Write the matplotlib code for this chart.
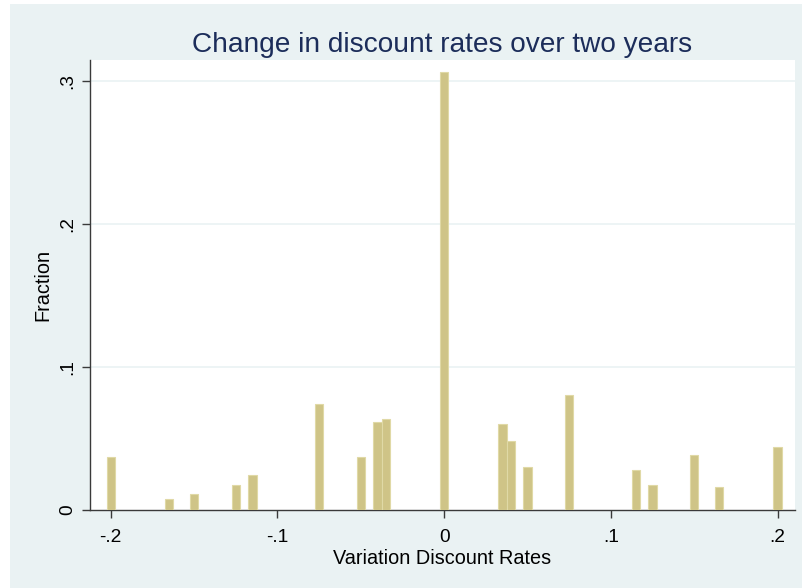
import numpy as np
import matplotlib.pyplot as plt
from matplotlib.patches import Rectangle

plt.rcParams['font.family'] = ['Liberation Sans', 'DejaVu Sans']

# discount rate changes (bin centres) and fraction of observations
values = [-0.200, -0.165, -0.150, -0.125, -0.115, -0.075, -0.050, -0.040, -0.035,
          0.000, 0.035, 0.040, 0.050, 0.075, 0.115, 0.125, 0.150, 0.165, 0.200]
fractions = [0.0373, 0.0077, 0.0110, 0.0173, 0.0247, 0.0741, 0.0373, 0.0618, 0.0639,
             0.3063, 0.0601, 0.0483, 0.0298, 0.0804, 0.0280, 0.0173, 0.0382, 0.0163, 0.0438]
xticks = [-0.2, -0.1, 0, 0.1, 0.2]
xticklabels = ['-.2', '-.1', '0', '.1', '.2']
yticks = [0, 0.1, 0.2, 0.3]
yticklabels = ['0', '.1', '.2', '.3']

bg = '#EAF2F3'
navy = '#1C2D5A'

fig = plt.figure(figsize=(8.03, 5.88), dpi=100, facecolor='white')
fig.patches.append(Rectangle((10 / 803, 0), 1 - 10 / 803, 1 - 4 / 588,
                             transform=fig.transFigure, facecolor=bg,
                             edgecolor='none', zorder=-10))

ax = fig.add_axes([90 / 803, 78 / 588, 705 / 803, 450 / 588])
ax.set_facecolor('white')
ax.bar(values, fractions, width=0.005, color='#CFC487', edgecolor='#E0D9A6',
       linewidth=0.8, zorder=3)

ax.set_xlim(-0.2124, 0.2104)
ax.set_ylim(0, 0.3147)
ax.set_xticks(xticks)
ax.set_xticklabels(xticklabels)
ax.set_yticks(yticks)
ax.set_yticklabels(yticklabels, rotation=90, va='center')
for y in yticks[1:]:
    ax.axhline(y, color=bg, linewidth=1.2, zorder=1)

for s in ['top', 'right']:
    ax.spines[s].set_visible(False)
for s in ['left', 'bottom']:
    ax.spines[s].set_color('#3A3A3A')
    ax.spines[s].set_linewidth(1.0)
ax.tick_params(direction='out', length=6, width=1.0, color='#3A3A3A',
               labelsize=13.8, labelcolor='black')
ax.tick_params(axis='x', pad=8)
ax.tick_params(axis='y', pad=4)

ax.set_xlabel('Variation Discount Rates', fontsize=14.3, labelpad=1.5)
ax.set_ylabel('Fraction', fontsize=14.3, labelpad=5)
ax.set_title('Change in discount rates over two years', fontsize=20.2,
             color=navy, pad=6)

fig.savefig('out.png', dpi=100, facecolor=fig.get_facecolor())
